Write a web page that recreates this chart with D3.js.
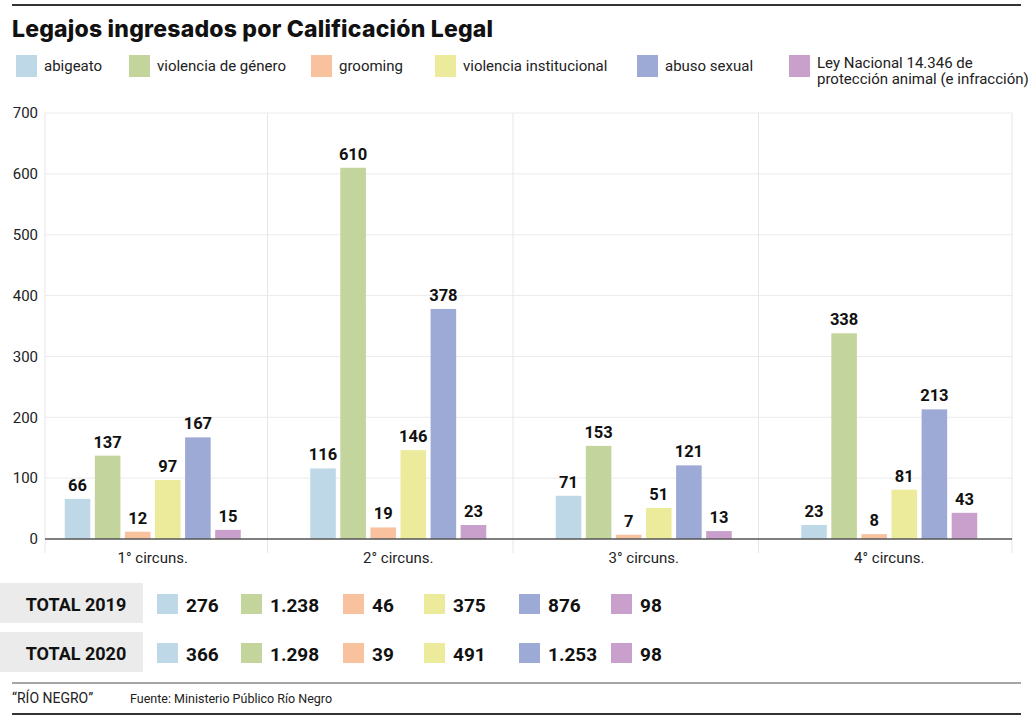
<!DOCTYPE html>
<html>
<head>
<meta charset="utf-8">
<script src="https://cdn.jsdelivr.net/npm/d3@7"></script>
<style>
  body { margin: 0; background: #fff; }
  svg { display: block; }
  .narrow { font-family: Roboto, "Liberation Sans Narrow", "DejaVu Sans Condensed", sans-serif; }
</style>
</head>
<body>
<svg id="chart" width="1034" height="719"></svg>
<script>
"use strict";

// data
const groups = ["1° circuns.", "2° circuns.", "3° circuns.", "4° circuns."];
const seriesNames = ["abigeato", "violencia de género", "grooming", "violencia institucional", "abuso sexual", "Ley Nacional 14.346 de|protección animal (e infracción)"];
const seriesColors = ["#bfd8e8", "#c4d49d", "#f8c29f", "#ebeb9b", "#9eaad6", "#c9a0cc"];
const abigeato = [66, 116, 71, 23];
const violenciaGenero = [137, 610, 153, 338];
const grooming = [12, 19, 7, 8];
const violenciaInstitucional = [97, 146, 51, 81];
const abusoSexual = [167, 378, 121, 213];
const leyProteccionAnimal = [15, 23, 13, 43];
const yTicks = [0, 100, 200, 300, 400, 500, 600, 700];
const total2019 = ["276", "1.238", "46", "375", "876", "98"];
const total2020 = ["366", "1.298", "39", "491", "1.253", "98"];

const seriesValues = [abigeato, violenciaGenero, grooming, violenciaInstitucional, abusoSexual, leyProteccionAnimal];
const seriesKeys = seriesNames.map((d, i) => "s" + i);

// table for the grouped bars
const table = groups.map((g, gi) => {
    let row = { group: g };
    seriesKeys.forEach((k, si) => row[k] = seriesValues[si][gi]);
    return row;
});

const svg = d3.select("#chart");

// consts
const plotLeft = 45, plotRight = 1012, plotTop = 113, plotBottom = 539;
const clusterWidth = 176;



// header rule + title
svg.append("line")
.attr("x1", 12).attr("x2", 1021).attr("y1", 5).attr("y2", 5)
.attr("stroke", "#333").attr("stroke-width", 2);

svg.append("text")
.attr("x", 12).attr("y", 37)
.attr("font-family", "Inter, 'Open Sans', sans-serif")
.attr("font-weight", 800)
.attr("font-size", 23)
.attr("letter-spacing", 0.2)
.attr("fill", "#111")
.text("Legajos ingresados por Calificación Legal");



// legend
const legendX = [16, 129, 311, 435, 637, 789];
let legend = svg.append("g").attr("class", "legend narrow");
seriesNames.forEach((name, i) => {
    let g = legend.append("g").attr("transform", `translate(${legendX[i]}, 55)`);
    g.append("rect").attr("width", 21).attr("height", 22).attr("fill", seriesColors[i]);
    let lines = name.split("|");
    let t = g.append("text")
    .attr("y", lines.length > 1 ? 13 : 16)
    .attr("font-size", 15)
    .attr("fill", "#222");
    lines.forEach((l, li) => {
        t.append("tspan").attr("x", 28).attr("dy", li == 0 ? 0 : 16).text(l);
    });
});



// scales
let scaleY = d3.scaleLinear().domain([0, 700]).range([plotBottom, plotTop]);

let scaleX0 = d3.scaleBand().domain(groups).range([30, plotRight]);

let scaleX1 = d3.scaleBand().domain(seriesKeys).range([0, clusterWidth]).paddingInner(0.15);

let scaleColor = d3.scaleOrdinal().domain(seriesKeys).range(seriesColors);



// horizontal grid
svg.append("g")
.attr("class", "grid")
.selectAll("line")
.data(yTicks.slice(1))
.join("line")
.attr("x1", plotLeft).attr("x2", plotRight)
.attr("y1", d => scaleY(d)).attr("y2", d => scaleY(d))
.attr("stroke", "#ebebeb").attr("stroke-width", 1);

// vertical separators
let sepX = [plotLeft].concat(groups.slice(1).map(g => scaleX0(g) - 8)).concat([plotRight]);
svg.append("g")
.attr("class", "separators")
.selectAll("line")
.data(sepX)
.join("line")
.attr("x1", d => d).attr("x2", d => d)
.attr("y1", plotTop).attr("y2", plotBottom + 14)
.attr("stroke", "#e6e6e6").attr("stroke-width", 1);



// y axis labels
let yAxis = svg.append("g")
.attr("class", "y_axis")
.attr("transform", "translate(38, 0)")
.call(d3.axisLeft(scaleY).tickValues(yTicks).tickSize(0).tickPadding(0));
yAxis.select(".domain").remove();
yAxis.selectAll("text")
.attr("font-family", "Roboto, sans-serif")
.attr("font-size", 15)
.attr("fill", "#222");



// bars
let clusters = svg.append("g")
.attr("class", "bars")
.selectAll("g")
.data(table)
.join("g")
.attr("transform", d => `translate(${scaleX0(d.group) + (scaleX0.bandwidth() - clusterWidth) / 2}, 0)`);

clusters.selectAll("rect")
.data(d => seriesKeys.map(k => ({ key: k, value: d[k] })))
.join("rect")
.attr("x", d => scaleX1(d.key))
.attr("y", d => scaleY(d.value))
.attr("width", scaleX1.bandwidth())
.attr("height", d => plotBottom - scaleY(d.value))
.attr("fill", d => scaleColor(d.key));

clusters.selectAll("text")
.data(d => seriesKeys.map(k => ({ key: k, value: d[k] })))
.join("text")
.attr("class", "narrow")
.attr("x", d => scaleX1(d.key) + scaleX1.bandwidth() / 2)
.attr("y", d => scaleY(d.value) - 8)
.attr("text-anchor", "middle")
.attr("font-weight", 700)
.attr("font-size", 16.5)
.attr("fill", "#111")
.text(d => d.value);



// x axis
svg.append("line")
.attr("x1", plotLeft).attr("x2", plotRight)
.attr("y1", plotBottom).attr("y2", plotBottom)
.attr("stroke", "#555").attr("stroke-width", 1.5);

svg.append("g")
.attr("class", "x_labels narrow")
.selectAll("text")
.data(groups)
.join("text")
.attr("x", d => scaleX0(d) + scaleX0.bandwidth() / 2)
.attr("y", plotBottom + 24)
.attr("text-anchor", "middle")
.attr("font-size", 15)
.attr("fill", "#222")
.text(d => d);



// totals table
const totalRows = [{ label: "TOTAL 2019", values: total2019, y: 583 }, { label: "TOTAL 2020", values: total2020, y: 632 }];
const totalX = [157, 241, 343, 424, 519, 611];
totalRows.forEach(r => {
    let g = svg.append("g").attr("class", "totals narrow").attr("transform", `translate(0, ${r.y})`);
    g.append("rect").attr("x", 0).attr("y", 0).attr("width", 143).attr("height", 40).attr("fill", "#ebebeb");
    g.append("text")
    .attr("x", 76).attr("y", 28)
    .attr("text-anchor", "middle")
    .attr("font-weight", 700).attr("font-size", 18)
    .attr("fill", "#111")
    .text(r.label);
    r.values.forEach((v, i) => {
        g.append("rect").attr("x", totalX[i]).attr("y", 11).attr("width", 21).attr("height", 20).attr("fill", seriesColors[i]);
        g.append("text")
        .attr("x", totalX[i] + 29).attr("y", 29)
        .attr("font-weight", 700).attr("font-size", 19)
        .attr("fill", "#111")
        .text(v);
    });
});



// footer
svg.append("line")
.attr("x1", 12).attr("x2", 1021).attr("y1", 683).attr("y2", 683)
.attr("stroke", "#888").attr("stroke-width", 1.5);
svg.append("line")
.attr("x1", 12).attr("x2", 1021).attr("y1", 714).attr("y2", 714)
.attr("stroke", "#333").attr("stroke-width", 2);

let footer = svg.append("g").attr("class", "narrow").attr("fill", "#222");
footer.append("text").attr("x", 12).attr("y", 703).attr("font-size", 14).text("“RÍO NEGRO”");
footer.append("text").attr("x", 130).attr("y", 703).attr("font-size", 12.5).text("Fuente: Ministerio Público Río Negro");
</script>
</body>
</html>
